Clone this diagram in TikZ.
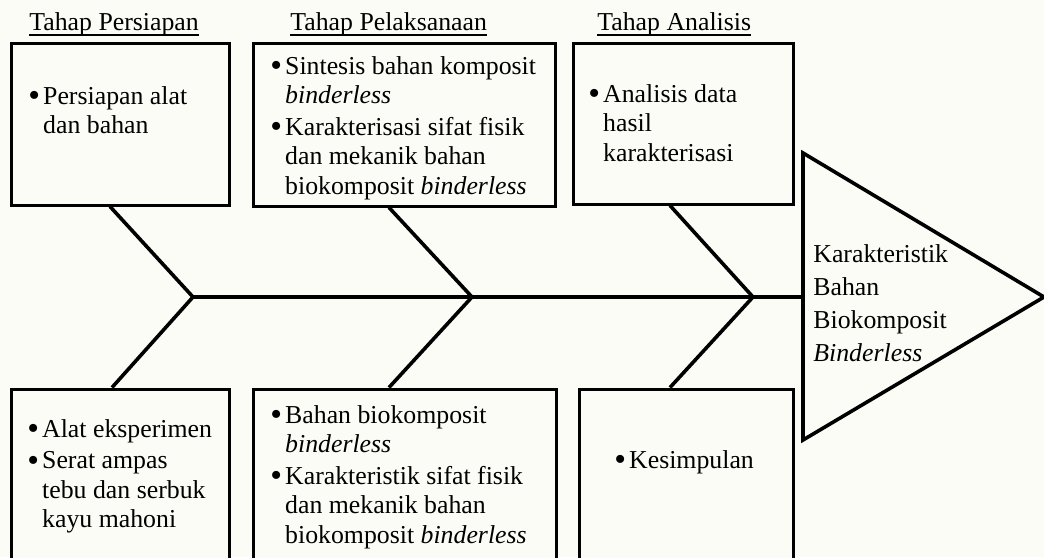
\documentclass[tikz,border=0pt]{standalone}
\usepackage{fontspec}
\setmainfont{Liberation Serif}
\definecolor{paper}{HTML}{FCFCF6}
\newenvironment{butir}{\begin{tabular}[t]{@{}l@{}l@{}}}{\end{tabular}}
\newcommand{\titik}{\makebox[7.4pt][l]{\raisebox{-1.2pt}{\scalebox{1.3}{\textbullet}}}}
\tikzset{
  fishbox/.style={draw, line width=1.5pt, fill=paper, inner sep=0pt},
  bone/.style={line width=1.8pt, line join=miter},
  hdr/.style={anchor=base west, inner sep=0pt, font=\fontsize{12.9}{14.8}\selectfont},
  itemtext/.style={anchor=base west, inner sep=0pt, font=\fontsize{12.9}{14.8}\selectfont},
}

\begin{document}
\begin{tikzpicture}[x=0.5pt, y=-0.5pt]
      % Page
      \useasboundingbox (0,0) rectangle (1044,557);
      \clip (0,0) rectangle (1044,557);
      \fill[paper] (0,0) rectangle (1044,557);

      % Boxes above the spine
      \node[fishbox, minimum width=109pt, minimum height=81pt] (persiapan) at (120,124) {};
      \node[fishbox, minimum width=151pt, minimum height=81.5pt] (pelaksanaan) at (404,124.5) {};
      \node[fishbox, minimum width=110pt, minimum height=80.5pt] (analisis) at (683,123.5) {};

      % Boxes below the spine (cut by the page)
      \node[fishbox, minimum width=109pt, minimum height=105.5pt] (alat) at (120,494.5) {};
      \node[fishbox, minimum width=151.5pt, minimum height=105.5pt] (bahan) at (404.5,494.5) {};
      \node[fishbox, minimum width=107pt, minimum height=105.5pt] (kesimpulan) at (686,494.5) {};

      % Joints and head
      \coordinate (j1) at (193,297);
      \coordinate (j2) at (472,297);
      \coordinate (j3) at (753,297);
      \coordinate (spineEnd) at (803,297);
      \coordinate (headTop) at (803,153);
      \coordinate (headBot) at (803,440);
      \coordinate (headTip) at (1044,297);

      % Spine and bones
      \draw[bone] (j1) -- (spineEnd);
      \draw[bone] ([xshift=-5pt]persiapan.south) -- (j1) -- ([xshift=-4pt]alat.north);
      \draw[bone] ([xshift=-7.5pt]pelaksanaan.south) -- (j2) -- ([xshift=-7.75pt]bahan.north);
      \draw[bone] ([xshift=-6.5pt]analisis.south) -- (j3) -- ([xshift=-8pt]kesimpulan.north);

      % Head
      \draw[bone, fill=paper] (headTop) -- (headTip) -- (headBot) -- cycle;

      % Stage titles
      \node[hdr] (hPersiapan) at (29,31) {Tahap Persiapan};
      \node[hdr] (hPelaksanaan) at (290,31) {Tahap Pelaksanaan};
      \node[hdr] (hAnalisis) at (597,31) {Tahap Analisis};
      \foreach \h in {hPersiapan, hPelaksanaan, hAnalisis}
        \draw[line width=0.7pt] ([yshift=-2pt]\h.base west) -- ([yshift=-2pt]\h.base east);

      % Box texts
      \node[itemtext] (tPersiapan) at (28,104) {\begin{butir}
        \titik & Persiapan alat\\ & dan bahan
      \end{butir}};
      \node[itemtext] (tPelaksanaan) at (270,74) {\begin{butir}
        \titik & Sintesis bahan komposit\\ & \textit{binderless}\\[1pt]
        \titik & Karakterisasi sifat fisik\\ & dan mekanik bahan\\ & biokomposit \textit{binderless}
      \end{butir}};
      \node[itemtext] (tAnalisis) at (588,102) {\begin{butir}
        \titik & Analisis data\\ & hasil\\ & karakterisasi
      \end{butir}};
      \node[itemtext] (tAlat) at (27,437) {\begin{butir}
        \titik & Alat eksperimen\\[1pt]
        \titik & Serat ampas\\ & tebu dan serbuk\\ & kayu mahoni
      \end{butir}};
      \node[itemtext] (tBahan) at (270,423) {\begin{butir}
        \titik & Bahan biokomposit\\ & \textit{binderless}\\[1pt]
        \titik & Karakteristik sifat fisik\\ & dan mekanik bahan\\ & biokomposit \textit{binderless}
      \end{butir}};
      \node[itemtext] (tKesimpulan) at (614,468) {\begin{butir}
        \titik & Kesimpulan
      \end{butir}};

      % Head text
      \node[anchor=base west, inner sep=0pt, font=\fontsize{12.9}{16.5}\selectfont] (tHead) at (813,262)
        {\begin{tabular}[t]{@{}l@{}}Karakteristik\\ Bahan\\ Biokomposit\\ \textit{Binderless}\end{tabular}};
\end{tikzpicture}
\end{document}
